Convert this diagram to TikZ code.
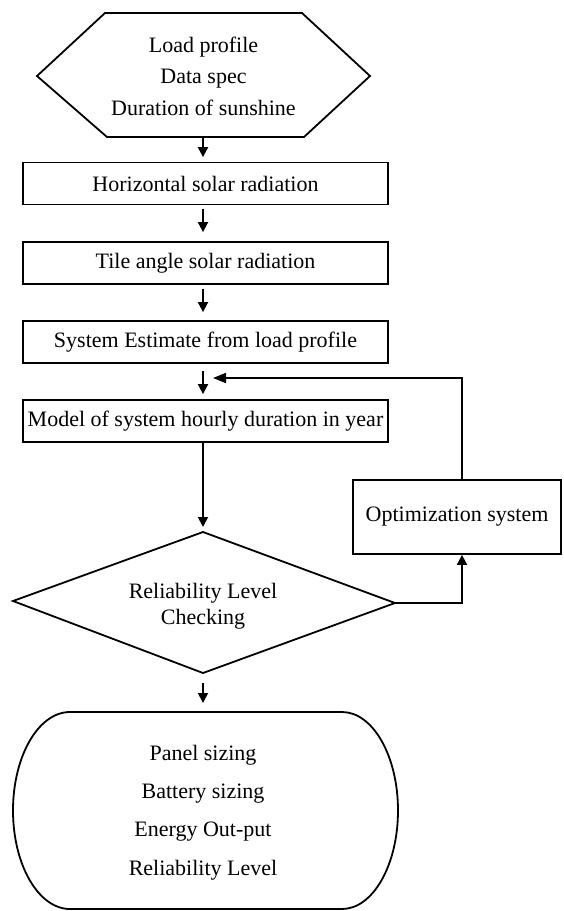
\documentclass[tikz,border=0pt]{standalone}
\usepackage{fontspec}
\setmainfont{Liberation Serif}
\usetikzlibrary{arrows.meta}
\begin{document}
\begin{tikzpicture}[x=0.5pt,y=-0.5pt, line width=0.9pt,
  box/.style={draw, rectangle, minimum width=182.5pt, minimum height=21pt, inner sep=0pt, font=\fontsize{11}{13}\selectfont},
  lbl/.style={align=center, inner sep=0pt},
  arr/.style={-{Triangle[length=5pt,width=5pt]}}]
\useasboundingbox (0,0) rectangle (563,911);
% hexagon
\draw (105,13) -- (302,13) -- (370,76) -- (304,137) -- (107,137) -- (37,76) -- cycle;
\node[lbl, font=\fontsize{11}{15.75}\selectfont] (hex) at (203.5,76) {Load profile\\Data spec\\Duration of sunshine};
\coordinate (hexb) at (203,137);
\coordinate (ax) at (203,0);
% boxes
\node[box] (b1) at (205.5,183.5) {Horizontal solar radiation};
\node[box] (b2) at (205.5,263) {Tile angle solar radiation};
\node[box] (b3) at (205.5,342) {System Estimate from load profile};
\node[box] (b4) at (205.5,421) {Model of system hourly duration in year};
% diamond
\coordinate (dt) at (203,532);
\coordinate (dr) at (395,603);
\coordinate (db) at (203,673);
\coordinate (dl) at (13,601);
\draw (dt) -- (dr) -- (db) -- (dl) -- cycle;
\node[lbl, font=\fontsize{11}{13}\selectfont] (dtext) at (203,606) {Reliability Level\\Checking};
% optimization
\node[draw, rectangle, minimum width=104pt, minimum height=37pt, inner sep=0pt, font=\fontsize{11}{13}\selectfont] (opt) at (457,517) {Optimization system};
\coordinate (fx) at (462,0);
\coordinate (fb) at (213,378);
% terminal
\draw (70,712) -- (342,712) arc[start angle=-90, end angle=90, x radius=56, y radius=98.5] -- (70,909) arc[start angle=90, end angle=270, x radius=57, y radius=98.5] -- cycle;
\node[lbl, font=\fontsize{11}{19.2}\selectfont] (term) at (203,812.5) {Panel sizing\\Battery sizing\\Energy Out-put\\Reliability Level};
\coordinate (tt) at (203,712);
% arrows
\draw[arr, shorten >=2.25pt] (hexb) -- (b1.north -| ax);
\draw[arr, shorten <=1.75pt, shorten >=4.5pt] (b1.south -| ax) -- (b2.north -| ax);
\draw[arr, shorten <=2pt, shorten >=4pt] (b2.south -| ax) -- (b3.north -| ax);
\draw[arr, shorten <=3.5pt, shorten >=2.5pt] (b3.south -| ax) -- (b4.north -| ax);
\draw[arr, shorten >=2.5pt] (b4.south -| ax) -- (dt);
\draw[arr, shorten <=5pt, shorten >=4.5pt] (db) -- (tt);
\draw[-{Triangle[length=6.5pt,width=5pt]}] (opt.north -| fx) |- (fb);
\draw[arr] (dr) -| (opt.south -| fx);
\end{tikzpicture}
\end{document}
